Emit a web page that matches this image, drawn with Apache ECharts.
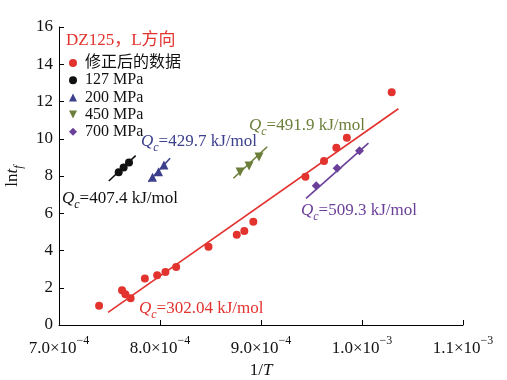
<!DOCTYPE html>
<html><head><meta charset="utf-8">
<script src="https://cdn.jsdelivr.net/npm/echarts@6/dist/echarts.min.js"></script>
<style>html,body{margin:0;padding:0;background:#fff}#c{width:507px;height:380px}</style>
</head><body><div id="c"></div>
<script>
// 1/T values, lnf values
const redX = [7.397e-4, 7.624e-4, 7.657e-4, 7.709e-4, 7.85e-4, 7.972e-4, 8.054e-4, 8.16e-4, 8.48e-4, 8.76e-4, 8.835e-4, 8.924e-4, 9.44e-4, 9.624e-4, 9.746e-4, 9.85e-4, 1.0294e-3];
const redY = [1.04, 1.86, 1.65, 1.43, 2.49, 2.67, 2.85, 3.11, 4.20, 4.85, 5.05, 5.55, 7.96, 8.81, 9.52, 10.06, 12.49];
const redFitX = [7.486e-4, 1.036e-3];
const redFitY = [0.68, 11.61];

const x127 = [7.591e-4, 7.640e-4, 7.693e-4];
const y127 = [8.20, 8.45, 8.73];
const fit127X = [7.493e-4, 7.759e-4];
const fit127Y = [7.73, 9.09];

const x200 = [7.926e-4, 7.985e-4, 8.039e-4];
const y200 = [7.93, 8.23, 8.59];
const fit200X = [7.884e-4, 8.10e-4];
const fit200Y = [7.69, 8.95];

const x450 = [8.793e-4, 8.882e-4, 8.98e-4];
const y450 = [8.21, 8.54, 9.02];
const fit450X = [8.727e-4, 9.062e-4];
const fit450Y = [7.88, 9.57];

const x700 = [9.547e-4, 9.754e-4, 9.975e-4];
const y700 = [7.48, 8.41, 9.36];
const fit700X = [9.446e-4, 1.0064e-3];
const fit700Y = [6.80, 9.76];

const xTickMant = ['7.0', '8.0', '9.0', '1.0', '1.1'];
const xTickExp = ['−4', '−4', '−4', '−3', '−3'];
const legendNames = ['修正后的数据', '127 MPa', '200 MPa', '450 MPa', '700 MPa'];
const qLabels = ['=407.4 kJ/mol', '=429.7 kJ/mol', '=491.9 kJ/mol', '=509.3 kJ/mol', '=302.04 kJ/mol'];

const FONT = '"Liberation Serif", "Times New Roman", "Noto Sans CJK SC", serif';
const C = {red:'#e2332f', black:'#111111', blue:'#3b3f8c', green:'#6b7f3a', purple:'#6a3f9a'};

const zip = (a,b) => a.map((v,i)=>[v,b[i]]);
const chart = echarts.init(document.getElementById('c'));

function scatter(name, xs, ys, color, symbol, size, rot) {
  return {name, type:'scatter', data:zip(xs,ys), symbol, symbolSize:size, symbolRotate:rot||0,
    itemStyle:{color, opacity:1}, z:3};
}
function fit(xs, ys, color) {
  return {type:'line', data:zip(xs,ys), symbol:'none', lineStyle:{color, width:1.6}, z:2, silent:true};
}
function qText(x, y, color, label) {
  return {type:'text', left:x, top:y, style:{
    text:'{q|Q}{s|c}{n|' + label + '}', fill:color,
    rich:{
      q:{fontFamily:FONT, fontStyle:'italic', fontSize:17, fill:color, verticalAlign:'bottom', lineHeight:18},
      s:{fontFamily:FONT, fontStyle:'italic', fontSize:12, fill:color, verticalAlign:'bottom', lineHeight:18, padding:[0,0,-4,0]},
      n:{fontFamily:FONT, fontSize:17, fill:color, verticalAlign:'bottom', lineHeight:18}
    }}};
}

chart.setOption({
  animation:false,
  backgroundColor:'#fff',
  grid:{left:59, right:44, top:27, bottom:55, containLabel:false, outerBoundsMode:'none'},
  xAxis:{type:'value', min:7e-4, max:1.1e-3, interval:1e-4,
    axisLine:{lineStyle:{color:'#000', width:1}},
    axisTick:{inside:true, length:5, lineStyle:{color:'#000'}},
    splitLine:{show:false},
    axisLabel:{margin:10, color:'#111', fontFamily:FONT, fontSize:17,
      formatter:function(v){
        const i = Math.round(v*1e4) - 7;
        if (i < 0 || i >= xTickMant.length) return '';
        return '{m|' + xTickMant[i] + '×10}{e|' + xTickExp[i] + '}';
      },
      rich:{m:{fontFamily:FONT, fontSize:17, color:'#111', verticalAlign:'top', lineHeight:20, padding:[5,0,0,0]},
            e:{fontFamily:FONT, fontSize:12, color:'#111', verticalAlign:'top', lineHeight:20, padding:[0,0,0,0]}}},
    name:'{a|1/}{b|T}', nameLocation:'middle', nameGap:37,
    nameTextStyle:{rich:{a:{fontFamily:FONT, fontSize:17, color:'#111'}, b:{fontFamily:FONT, fontSize:17, fontStyle:'italic', color:'#111'}}}
  },
  yAxis:{type:'value', min:0, max:16, interval:2,
    axisLine:{show:true, lineStyle:{color:'#000', width:1}},
    axisTick:{show:true, inside:true, length:5, lineStyle:{color:'#000'}},
    splitLine:{show:false},
    axisLabel:{margin:6, color:'#111', fontFamily:FONT, fontSize:17},
    name:'{a|ln}{b|t}{c|f}', nameLocation:'middle', nameGap:35, nameRotate:90,
    nameTextStyle:{rich:{
      a:{fontFamily:FONT, fontSize:17, color:'#111', verticalAlign:'bottom', lineHeight:18},
      b:{fontFamily:FONT, fontSize:17, fontStyle:'italic', color:'#111', verticalAlign:'bottom', lineHeight:18},
      c:{fontFamily:FONT, fontSize:12, fontStyle:'italic', color:'#111', verticalAlign:'bottom', lineHeight:18, padding:[0,0,-4,0]}}}
  },
  legend:{orient:'vertical', left:64, top:50, itemGap:1.2, itemWidth:8, itemHeight:8,
    textStyle:{fontFamily:FONT, fontSize:16, color:'#111', padding:[0,0,0,3]},
    data:[
      {name:legendNames[0], icon:'circle', itemStyle:{color:C.red}},
      {name:legendNames[1], icon:'circle', itemStyle:{color:C.black}},
      {name:legendNames[2], icon:'triangle', itemStyle:{color:C.blue}},
      {name:legendNames[3], icon:'path://M0,0 L10,0 L5,10 Z', itemStyle:{color:C.green}},
      {name:legendNames[4], icon:'diamond', itemStyle:{color:C.purple}}
    ]},
  graphic:[
    {type:'text', left:66, top:32, style:{text:'DZ125，L方向', fill:C.red, font:'17px ' + FONT}},
    qText(62, 190, C.black, qLabels[0]),
    qText(141, 133, C.blue, qLabels[1]),
    qText(249, 117, C.green, qLabels[2]),
    qText(301, 202, C.purple, qLabels[3]),
    qText(139, 300, C.red, qLabels[4])
  ],
  series:[
    fit(redFitX, redFitY, C.red),
    fit(fit127X, fit127Y, C.black),
    fit(fit200X, fit200Y, C.blue),
    fit(fit450X, fit450Y, C.green),
    fit(fit700X, fit700Y, C.purple),
    scatter(legendNames[0], redX, redY, C.red, 'circle', 8),
    scatter(legendNames[1], x127, y127, C.black, 'circle', 8),
    scatter(legendNames[2], x200, y200, C.blue, 'triangle', 9),
    scatter(legendNames[3], x450, y450, C.green, 'triangle', 9, 180),
    scatter(legendNames[4], x700, y700, C.purple, 'diamond', 9)
  ]
});
</script></body></html>
